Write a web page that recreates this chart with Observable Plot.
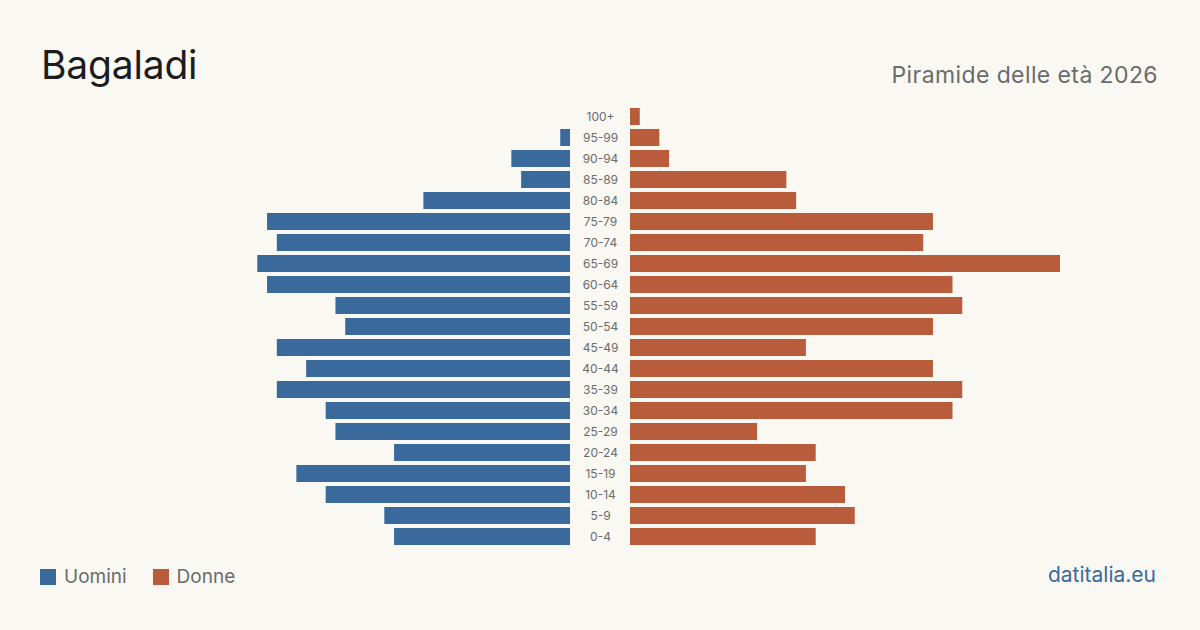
<!DOCTYPE html>
<html><head><meta charset="utf-8">
<script src="https://cdn.jsdelivr.net/npm/d3@7"></script>
<script src="https://cdn.jsdelivr.net/npm/@observablehq/plot@0.6"></script>
<style>
html,body{margin:0;padding:0;background:#f9f8f3;}
body{width:1200px;height:630px;position:relative;overflow:hidden;font-family:Inter,"Noto Sans",sans-serif;}
#title{position:absolute;left:41px;top:41px;font-size:39px;color:#1c1c1c;letter-spacing:-0.2px;}
#sub{position:absolute;right:42px;top:61px;font-size:23px;letter-spacing:0.4px;color:#6b6b6b;}
#charts{position:absolute;left:140px;top:105.5px;display:flex;}
#legend{position:absolute;left:40px;top:565px;font-size:19px;color:#6b6b6b;display:flex;align-items:center;}
#legend span.sw{display:inline-block;width:16px;height:16px;margin-right:8px;}
#legend span.lab{margin-right:26px;}
#src{position:absolute;right:44px;top:562px;font-size:21px;color:#3a6a9c;}
</style></head>
<body>
<div id="title">Bagaladi</div>
<div id="sub">Piramide delle età 2026</div>
<div id="charts"></div>
<div id="legend"><span class="sw" style="background:#3a6a9c"></span><span class="lab">Uomini</span><span class="sw" style="background:#b95c3c"></span><span class="lab">Donne</span></div>
<div id="src">datitalia.eu</div>
<script>
const ageGroups = ["100+","95-99","90-94","85-89","80-84","75-79","70-74","65-69","60-64","55-59","50-54","45-49","40-44","35-39","30-34","25-29","20-24","15-19","10-14","5-9","0-4"];
const men   = [0,1,6,5,15,31,30,32,31,24,23,30,27,30,25,24,18,28,25,19,18];
const women = [1,3,4,16,17,31,30,44,33,34,31,18,31,34,33,13,19,18,22,23,19];
const colorMen = "#3a6a9c", colorWomen = "#b95c3c";

const maxV = d3.max([...men, ...women]);
const menData = ageGroups.map((a,i)=>({age:a, v:men[i]}));
const womenData = ageGroups.map((a,i)=>({age:a, v:women[i]}));
const H = 441, W = 430;
const yOpts = {type:"band", domain: ageGroups, paddingInner: 0.19, paddingOuter: 0.095, round: false, axis: null};
const common = {height: H, marginTop:0, marginBottom:0, marginLeft:0, marginRight:0, style:{background:"transparent"}};

const left = Plot.plot({...common, width: W,
  x: {domain:[0,maxV], reverse:true, axis:null},
  y: yOpts,
  marks: [Plot.barX(menData, {x:"v", y:"age", fill: colorMen})]
});
const mid = Plot.plot({...common, width: 60,
  x: {domain:[0,1], axis:null},
  y: yOpts,
  marks: [Plot.text(ageGroups, {x: ()=>0.5, y: d=>d, text: d=>d, fill:"#6b6b6b", fontSize: 12, fontFamily:"Inter, sans-serif"})]
});
const right = Plot.plot({...common, width: W,
  x: {domain:[0,maxV], axis:null},
  y: yOpts,
  marks: [Plot.barX(womenData, {x:"v", y:"age", fill: colorWomen})]
});
const c = document.getElementById("charts");
c.append(left, mid, right);
</script>
</body></html>
